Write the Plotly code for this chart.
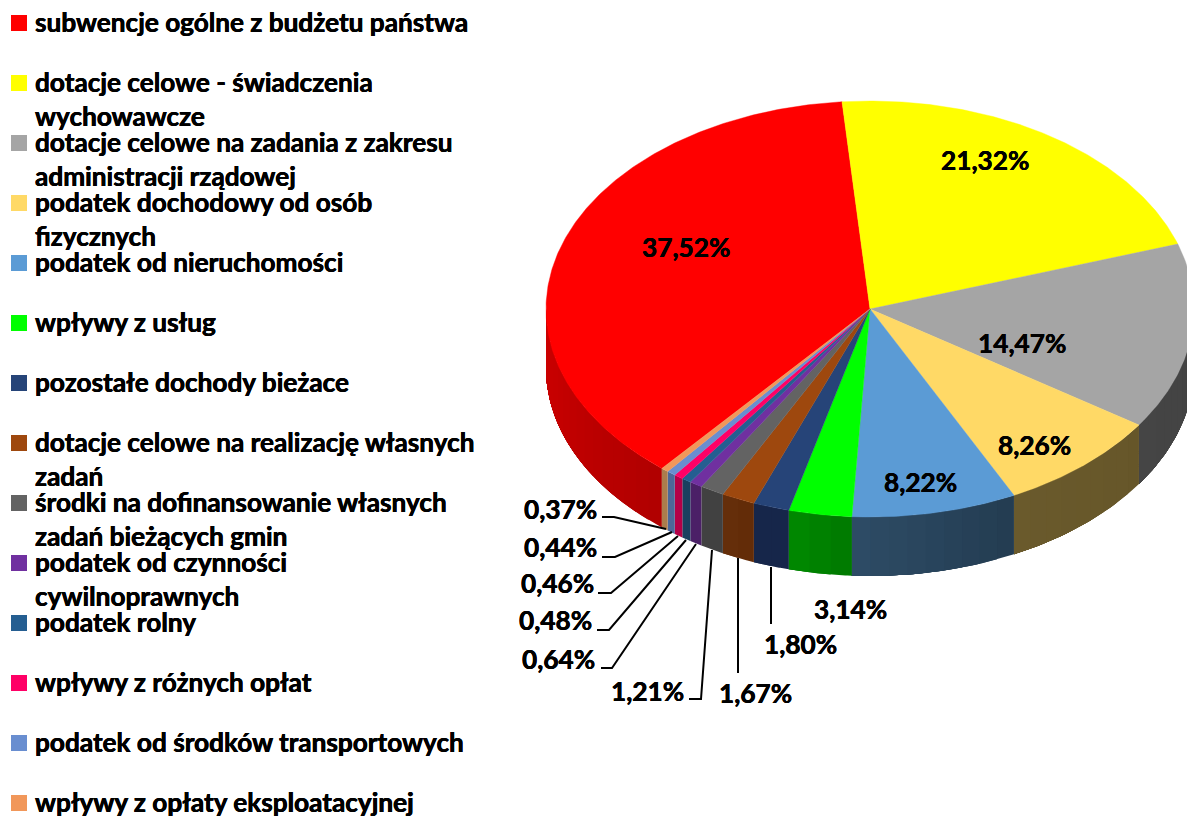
import numpy as np
import plotly.graph_objects as go

# ---- data ----
categories = [
    "subwencje ogólne z budżetu państwa",
    "dotacje celowe - świadczenia<br>wychowawcze",
    "dotacje celowe na zadania z zakresu<br>administracji rządowej",
    "podatek dochodowy od osób<br>fizycznych",
    "podatek od nieruchomości",
    "wpływy z usług",
    "pozostałe dochody bieżace",
    "dotacje celowe na realizację własnych<br>zadań",
    "środki na dofinansowanie własnych<br>zadań bieżących gmin",
    "podatek od czynności<br>cywilnoprawnych",
    "podatek rolny",
    "wpływy z różnych opłat",
    "podatek od środków transportowych",
    "wpływy z opłaty eksploatacyjnej",
]
values = [37.52, 21.32, 14.47, 8.26, 8.22, 3.14, 1.80, 1.67, 1.21, 0.64, 0.48, 0.46, 0.44, 0.37]
top_colors = ["#FF0000", "#FFFF00", "#A5A5A5", "#FFD966", "#5B9BD5", "#00FF00", "#264478",
              "#9E480E", "#636363", "#7030A0", "#255E91", "#FF0066", "#698ED0", "#F1975A"]
wall_left = ["#CE0000", "#6E6E00", "#454545", "#6A5A2C", "#2E4C66", "#008A00", "#16264A",
             "#662E0A", "#434343", "#4C2068", "#1A4060", "#B80048", "#4F6A9C", "#B08050"]
wall_right = ["#B00000", "#6E6E00", "#424242", "#665629", "#233C51", "#007800", "#16264A",
              "#622C08", "#3F3F3F", "#4A1F66", "#1A405E", "#B00046", "#4A6496", "#A97848"]

# ---- layout constants (pixels of the axis frame) ----
W, H = 1187, 816
CX, CY, RX, RY, DEPTH = 870, 309, 324, 208, 59
START_DEG = -140.03
FONT = "Lato, Carlito, Calibri, sans-serif"
FS = 26.2
SHADOW = "0.35px 0 0 #000, -0.25px 0 0 #000"

label_pos = [(685.5, 247), (984.5, 160), (1022, 343), (1034, 445), (920, 482), (850, 609), (800.5, 644),
             (755.5, 693), (647.5, 691), (558.5, 659), (555.5, 620), (557.5, 583), (560.5, 547), (560.5, 509)]
leaders = [
    None, None, None, None, None, None,
    [(771, 624), (771, 567)],
    [(738, 673), (738, 558)],
    [(689, 699), (701, 699), (712, 550)],
    [(601, 668), (612, 668), (696, 544)],
    [(597, 630), (609, 630), (686, 540)],
    [(598, 593), (611, 593), (678, 536)],
    [(602, 557), (615, 557), (672, 532)],
    [(602, 517), (614, 517), (666, 529)],
]
LEG_X, LEG_TXT_X, LEG_Y0, LEG_STEP, LEG_LINE = 19, 32.5, 22, 60, 34
SWATCH_Y0 = 23


def px(theta_deg, drop=0.0):
    t = np.radians(theta_deg)
    return CX + RX * np.sin(t), CY - RY * np.cos(t) + drop


def hex_mix(a, b, f):
    ca = [int(a[i:i + 2], 16) for i in (1, 3, 5)]
    cb = [int(b[i:i + 2], 16) for i in (1, 3, 5)]
    return "#" + "".join(f"{round(x + (y - x) * f):02X}" for x, y in zip(ca, cb))


fig = go.Figure()
edges = START_DEG + np.concatenate([[0], np.cumsum(values)]) * 360 / sum(values)

# side walls (front half of the cylinder, 90..270 degrees); each band is painted
# from its start to the end of the wall so no seams show between shading steps
for i, name in enumerate(categories):
    a0, a1 = edges[i], edges[i + 1]
    spans = [(a0, a1), (a0 + 360, a1 + 360), (a0 - 360, a1 - 360)]
    for s0, s1 in spans:
        lo, hi = max(s0, 90), min(s1, 270)
        if lo >= hi:
            continue
        n = max(1, int((hi - lo) / 3))
        cuts = np.linspace(lo, hi, n + 1)
        for k in range(n):
            fine = np.linspace(cuts[k], hi, 30)
            x_t, y_t = px(fine)
            x_b, y_b = px(fine[::-1], DEPTH)
            f = 1 - (k + 0.5) / n  # high theta lies on the left of the picture
            col = hex_mix(wall_left[i], wall_right[i], f)
            fig.add_trace(go.Scatter(
                x=np.r_[x_t, x_b], y=np.r_[y_t, y_b], mode="lines", fill="toself",
                fillcolor=col, line=dict(width=0),
                hoverinfo="skip", showlegend=False))

# top faces
for i, name in enumerate(categories):
    fine = np.linspace(edges[i], edges[i + 1], max(4, int((edges[i + 1] - edges[i]) * 2)))
    x_e, y_e = px(fine)
    fig.add_trace(go.Scatter(
        x=np.r_[CX, x_e, CX], y=np.r_[CY, y_e, CY], mode="lines", fill="toself",
        fillcolor=top_colors[i], line=dict(color=top_colors[i], width=0.4),
        name=name.replace("<br>", " "), text=f"{values[i]:.2f}%", hoverinfo="name+text",
        showlegend=False))

# leader lines
for line in leaders:
    if line:
        fig.add_trace(go.Scatter(
            x=[p[0] for p in line], y=[p[1] for p in line], mode="lines",
            line=dict(color="#000000", width=2), hoverinfo="skip", showlegend=False))

# legend swatches
fig.add_trace(go.Scatter(
    x=[LEG_X] * len(categories), y=[SWATCH_Y0 + LEG_STEP * i for i in range(len(categories))],
    mode="markers", marker=dict(symbol="square", size=16, color=top_colors, line=dict(width=0)),
    hoverinfo="skip", showlegend=False))

annotations = []
for i, name in enumerate(categories):
    for j, part in enumerate(name.split("<br>")):
        annotations.append(dict(
            x=LEG_TXT_X, y=LEG_Y0 + LEG_STEP * i + j * LEG_LINE, text=f"<b>{part}</b>",
            xref="x", yref="y", xanchor="left", yanchor="middle", showarrow=False,
            font=dict(family=FONT, size=FS, color="#000000", shadow=SHADOW)))
for v, (lx, ly) in zip(values, label_pos):
    annotations.append(dict(
        x=lx, y=ly, text="<b>" + f"{v:.2f}".replace(".", ",") + "%</b>",
        xref="x", yref="y", xanchor="center", yanchor="middle", showarrow=False,
        font=dict(family=FONT, size=FS, color="#000000", shadow=SHADOW)))

fig.update_layout(
    width=W, height=H, margin=dict(l=0, r=0, t=0, b=0),
    paper_bgcolor="#FFFFFF", plot_bgcolor="#FFFFFF",
    xaxis=dict(range=[0, W], visible=False, fixedrange=True),
    yaxis=dict(range=[H, 0], visible=False, fixedrange=True),
    annotations=annotations, showlegend=False,
)
fig.write_html("out.html", config=dict(displayModeBar=False),
               post_script="document.body.style.margin='0';document.documentElement.style.overflow='hidden';")
